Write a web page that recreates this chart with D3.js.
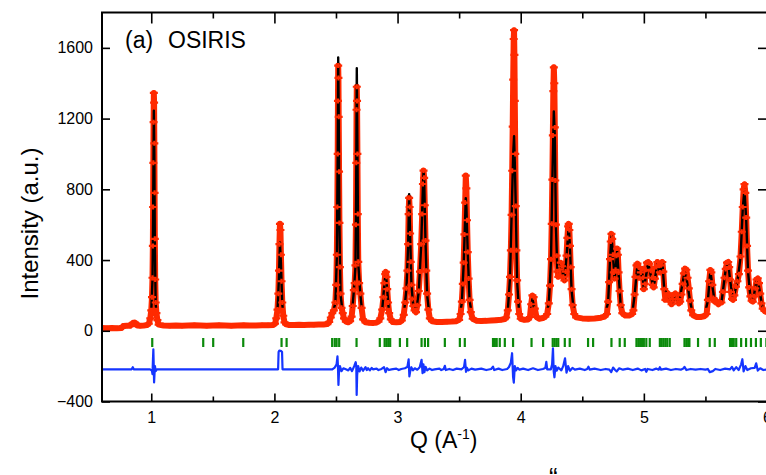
<!DOCTYPE html>
<html><head><meta charset="utf-8">
<script src="https://cdn.jsdelivr.net/npm/d3@7"></script>
<style>body{margin:0;background:#fff} svg{display:block} text{font-family:"Liberation Sans",Arial,sans-serif}</style>
</head><body><svg id="c" width="766" height="475"></svg>
<script>
// ---------- data ----------
const xTicks = [1, 2, 3, 4, 5, 6];
const xMinorTicks = [1.5, 2.5, 3.5, 4.5, 5.5];
const yTicks = [-400, 0, 400, 800, 1200, 1600];

// observed intensity [Q, I]
const observed = [
[0.600,15],[0.640,14],[0.680,15],[0.720,14],[0.760,16],[0.772,27],[0.800,28],[0.830,29],[0.845,40],[0.852,45],[0.860,38],[0.868,46],[0.876,40],[0.885,30],[0.910,29],[0.940,30],[0.965,32],
[0.980,40],[0.992,70],[1.000,115],[1.006,190],[1.010,300],[1.013,480],[1.015,700],[1.017,950],[1.019,1180],[1.021,1345],[1.023,1290],[1.025,1060],[1.027,780],[1.029,520],[1.032,290],[1.036,160],[1.042,100],[1.050,60],[1.060,35],
[1.10,30],[1.15,29],[1.20,30],[1.25,29],[1.30,30],[1.35,31],[1.40,30],[1.45,29],[1.50,30],[1.55,31],[1.60,30],[1.65,29],[1.70,30],[1.75,31],[1.80,30],[1.85,30],[1.90,31],[1.95,31],[1.99,33],
[2.005,40],[2.015,70],[2.025,120],[2.032,210],[2.037,340],[2.041,490],[2.045,605],[2.049,570],[2.053,430],[2.058,280],[2.064,160],[2.072,85],[2.082,48],[2.095,36],
[2.12,33],[2.16,33],[2.20,34],[2.24,33],[2.28,34],[2.32,34],[2.36,35],[2.40,36],[2.43,38],
[2.445,50],[2.458,75],[2.470,100],[2.483,115],[2.495,160],[2.502,260],[2.507,430],[2.511,700],[2.514,1000],[2.516,1300],[2.518,1500],[2.520,1430],[2.522,1210],[2.525,900],[2.528,610],[2.532,360],[2.537,210],[2.545,130],[2.555,100],[2.565,70],[2.580,52],[2.600,48],[2.615,55],
[2.627,80],[2.636,140],[2.645,230],[2.652,270],[2.658,370],[2.662,600],[2.665,950],[2.667,1250],[2.669,1380],[2.671,1300],[2.674,1000],[2.677,660],[2.681,390],[2.688,270],[2.698,210],[2.708,130],[2.720,65],[2.740,48],[2.770,45],[2.800,44],[2.825,46],
[2.845,52],[2.860,70],[2.875,120],[2.885,190],[2.893,270],[2.900,320],[2.905,333],[2.910,305],[2.916,235],[2.923,160],[2.932,100],[2.945,65],[2.960,50],[2.990,48],[3.020,50],
[3.035,58],[3.050,90],[3.062,160],[3.072,240],[3.080,340],[3.086,490],[3.090,660],[3.094,752],[3.098,700],[3.102,550],[3.107,390],[3.113,260],[3.120,180],[3.128,140],[3.138,115],[3.150,105],[3.160,145],[3.172,225],[3.182,335],[3.192,490],[3.200,660],[3.206,830],[3.211,906],[3.216,865],[3.221,710],[3.227,510],[3.233,340],[3.240,210],[3.250,120],[3.262,70],[3.280,54],[3.320,50],[3.360,50],[3.400,51],[3.440,52],[3.475,54],
[3.500,62],[3.512,95],[3.522,165],[3.530,265],[3.537,385],[3.543,545],[3.549,725],[3.554,878],[3.559,805],[3.564,625],[3.570,445],[3.577,295],[3.585,175],[3.595,105],[3.610,68],[3.640,57],[3.680,55],[3.720,56],[3.760,58],[3.800,60],[3.840,62],[3.870,66],
[3.882,75],[3.895,115],[3.905,205],[3.913,305],[3.920,455],[3.926,655],[3.931,905],[3.935,1155],[3.939,1420],[3.943,1650],[3.946,1700],[3.949,1560],[3.952,1300],[3.956,1000],[3.960,705],[3.965,455],[3.971,285],[3.978,165],[3.988,95],[4.000,68],[4.030,62],[4.060,64],
[4.075,78],[4.085,150],[4.095,200],[4.105,190],[4.115,125],[4.128,78],[4.150,68],[4.180,72],[4.200,80],
[4.215,95],[4.228,155],[4.238,255],[4.246,405],[4.252,605],[4.257,855],[4.261,1105],[4.265,1355],[4.269,1490],[4.273,1400],[4.277,1150],[4.281,850],[4.286,600],[4.292,425],[4.298,335],[4.305,305],[4.315,345],[4.325,385],[4.335,365],[4.345,305],[4.355,285],[4.365,335],[4.372,425],[4.379,525],[4.385,590],[4.390,605],[4.395,570],[4.400,480],[4.406,360],[4.413,235],[4.422,145],[4.435,95],[4.450,76],[4.500,70],[4.550,68],[4.600,70],[4.650,74],[4.680,80],
[4.700,95],[4.710,165],[4.718,275],[4.725,405],[4.731,505],[4.737,548],[4.743,520],[4.749,430],[4.756,330],[4.763,295],[4.770,345],[4.777,425],[4.783,465],[4.789,430],[4.795,330],[4.803,225],[4.812,145],[4.825,100],[4.850,86],[4.880,86],[4.905,95],
[4.915,115],[4.925,205],[4.932,305],[4.940,370],[4.948,380],[4.956,360],[4.965,300],[4.975,330],[4.985,350],[4.993,300],[5.000,235],[5.008,265],[5.016,345],[5.025,385],[5.035,389],[5.045,380],[5.055,340],[5.065,300],[5.072,260],[5.080,245],[5.090,295],[5.100,360],[5.110,389],[5.120,370],[5.130,330],[5.140,370],[5.150,389],[5.158,335],[5.166,235],
[5.175,175],[5.185,205],[5.195,212],[5.205,195],[5.215,165],[5.225,150],[5.235,180],[5.245,205],[5.255,211],[5.265,200],[5.275,180],[5.285,155],
[5.295,165],[5.305,205],[5.315,265],[5.325,325],[5.335,352],[5.345,345],[5.355,300],[5.365,240],[5.375,170],[5.385,115],[5.400,88],[5.430,78],[5.460,78],[5.490,82],
[5.510,95],[5.520,175],[5.530,280],[5.540,344],[5.548,330],[5.556,260],[5.565,185],[5.575,165],[5.585,170],[5.595,160],[5.605,150],[5.615,160],
[5.630,160],[5.642,220],[5.655,300],[5.665,350],[5.675,385],[5.685,389],[5.693,360],[5.700,290],[5.708,220],[5.716,180],[5.724,175],
[5.735,200],[5.748,250],[5.760,280],[5.772,320],[5.785,420],[5.795,560],[5.803,700],[5.810,800],[5.817,829],[5.824,780],[5.831,640],[5.838,480],[5.846,340],[5.855,245],[5.865,195],
[5.875,170],[5.885,165],[5.895,195],[5.905,240],[5.915,290],[5.925,296],[5.935,270],[5.945,210],[5.955,155],[5.965,125],[5.980,112],[6.000,105]
];

// calculated profile [Q, I]
const calculated = [
[0.60,15],[0.98,38],[1.000,110],[1.010,290],[1.015,650],[1.021,1245],[1.025,1000],[1.029,500],[1.036,150],[1.05,55],[1.10,30],
[2.00,35],[2.025,115],[2.037,300],[2.045,500],[2.053,380],[2.064,150],[2.08,50],[2.10,35],
[2.44,40],[2.47,95],[2.495,155],[2.507,420],[2.514,1000],[2.518,1546],[2.522,1250],[2.528,600],[2.537,205],[2.555,100],[2.58,52],[2.60,48],
[2.627,78],[2.645,225],[2.658,360],[2.664,800],[2.669,1485],[2.674,1050],[2.681,380],[2.698,205],[2.72,62],[2.80,44],
[2.845,50],[2.875,115],[2.893,265],[2.905,330],[2.916,230],[2.932,95],[2.96,50],[3.02,50],
[3.050,88],[3.072,235],[3.086,485],[3.094,773],[3.102,545],[3.113,255],[3.128,138],[3.150,100],[3.172,220],[3.192,485],[3.206,820],[3.211,900],[3.216,860],[3.227,505],[3.240,205],[3.262,68],[3.30,52],[3.48,54],
[3.500,60],[3.522,160],[3.537,380],[3.549,640],[3.554,750],[3.559,700],[3.570,440],[3.585,170],[3.610,66],[3.87,64],
[3.895,112],[3.913,300],[3.926,650],[3.939,1000],[3.946,1100],[3.952,950],[3.960,700],[3.971,280],[3.988,92],[4.06,63],
[4.075,76],[4.095,180],[4.115,120],[4.15,67],[4.20,78],
[4.228,150],[4.246,400],[4.257,850],[4.269,1240],[4.277,1100],[4.286,590],[4.298,330],[4.325,380],[4.355,280],[4.372,420],[4.390,590],[4.400,470],[4.413,230],[4.435,92],[4.50,70],[4.68,80],
[4.710,160],[4.725,400],[4.737,540],[4.749,425],[4.763,290],[4.783,450],[4.795,325],[4.812,140],[4.85,86],[4.905,94],
[4.925,200],[4.948,375],[4.965,300],[4.985,345],[5.000,235],[5.035,385],[5.072,260],[5.080,245],[5.110,385],[5.130,330],[5.150,389],[5.166,230],
[5.195,210],[5.225,150],[5.255,208],[5.285,155],[5.335,350],[5.375,168],[5.400,86],[5.49,80],
[5.520,170],[5.540,340],[5.556,255],[5.575,165],[5.605,150],[5.630,158],[5.665,350],[5.685,385],[5.700,288],[5.724,175],
[5.760,278],[5.785,415],[5.803,690],[5.817,800],[5.831,630],[5.846,335],[5.865,193],[5.885,165],[5.915,285],[5.925,290],[5.945,205],[5.965,124],[6.00,104]
];

// difference curve (offset) [Q, I]
const difference = [
[0.60,-218],[0.84,-218],[0.850,-206],[0.858,-218],[0.99,-218],[1.005,-225],[1.010,-245],[1.014,-160],[1.017,-105],[1.020,-190],[1.023,-292],[1.026,-250],[1.030,-200],[1.036,-228],[1.045,-218],
[2.030,-218],[2.034,-120],[2.040,-112],[2.056,-115],[2.062,-120],[2.066,-218],
[2.470,-218],[2.490,-208],[2.505,-190],[2.512,-145],[2.516,-200],[2.520,-306],[2.524,-240],[2.532,-200],[2.545,-228],[2.560,-212],[2.580,-218],[2.600,-224],[2.615,-210],[2.630,-228],[2.648,-200],[2.660,-178],[2.665,-200],[2.668,-363],[2.672,-250],[2.680,-200],[2.692,-230],[2.705,-208],[2.720,-226],[2.740,-206],[2.750,-222],[2.760,-212],[2.775,-224],[2.790,-210],[2.800,-218],[2.830,-214],[2.845,-222],[2.870,-216],[2.890,-206],[2.903,-234],[2.915,-212],[2.930,-222],[2.950,-218],
[2.990,-214],[3.010,-222],[3.030,-216],[3.060,-212],[3.080,-204],[3.090,-162],[3.096,-258],[3.102,-232],[3.112,-206],[3.125,-224],[3.140,-212],[3.160,-220],[3.180,-206],[3.195,-164],[3.203,-240],[3.210,-190],[3.218,-234],[3.228,-204],[3.240,-224],[3.260,-214],[3.280,-222],[3.300,-218],
[3.340,-214],[3.355,-222],[3.375,-216],[3.384,-198],[3.392,-222],[3.420,-216],[3.450,-222],[3.480,-214],[3.520,-218],[3.540,-205],[3.548,-165],[3.556,-232],[3.564,-210],[3.575,-224],[3.600,-214],[3.630,-220],
[3.680,-214],[3.720,-222],[3.760,-216],[3.775,-203],[3.785,-222],[3.820,-214],[3.850,-222],[3.890,-216],[3.905,-205],[3.920,-180],[3.930,-127],[3.938,-260],[3.944,-293],[3.952,-200],[3.962,-224],[3.975,-210],[3.990,-220],[4.020,-214],[4.060,-222],
[4.100,-212],[4.140,-222],[4.180,-216],[4.200,-210],[4.208,-176],[4.215,-218],[4.245,-218],[4.255,-190],[4.262,-99],[4.268,-230],[4.274,-263],[4.282,-200],[4.292,-226],[4.305,-208],[4.330,-224],[4.345,-200],[4.360,-156],[4.372,-237],[4.385,-200],[4.400,-226],[4.420,-210],[4.440,-220],
[4.480,-214],[4.520,-222],[4.540,-216],[4.550,-203],[4.560,-220],[4.600,-214],[4.650,-222],[4.690,-216],[4.720,-220],[4.735,-234],[4.750,-208],[4.765,-220],[4.780,-230],[4.800,-212],[4.830,-220],[4.870,-214],[4.910,-222],
[4.950,-214],[4.980,-224],[5.010,-216],[5.020,-232],[5.030,-216],[5.070,-222],[5.100,-214],[5.120,-220],[5.130,-206],[5.140,-220],[5.180,-214],[5.220,-222],[5.260,-216],[5.300,-220],[5.320,-214],[5.330,-204],[5.345,-222],[5.380,-216],[5.420,-220],[5.460,-216],[5.500,-220],
[5.520,-216],[5.535,-234],[5.560,-228],[5.580,-216],[5.620,-222],[5.660,-214],[5.700,-218],[5.715,-204],[5.730,-224],[5.750,-206],[5.770,-222],[5.790,-190],[5.800,-161],[5.810,-230],[5.825,-200],[5.840,-222],[5.870,-212],[5.900,-210],[5.912,-184],[5.925,-225],[5.945,-212],[5.970,-222],[6.000,-218]
];

// Bragg reflection positions (Q)
const braggPositions = [1.008,1.422,1.503,1.747,2.058,2.099,2.469,2.490,2.505,2.526,2.667,2.856,2.895,2.910,2.925,2.940,3.019,3.078,3.195,3.222,3.248,3.384,3.506,3.546,3.775,3.790,3.805,3.830,3.871,3.938,4.088,4.182,4.260,4.275,4.290,4.305,4.358,4.398,4.547,4.588,4.737,4.804,4.845,4.940,4.955,4.970,4.985,5.000,5.020,5.048,5.130,5.145,5.160,5.175,5.190,5.210,5.330,5.345,5.360,5.370,5.440,5.535,5.576,5.700,5.715,5.730,5.750,5.790,5.830,5.870,5.910,5.950,5.995];
const braggLevel = -66;

// ---------- drawing ----------
const RED = "#ff2a00", BLUE = "#1535ff", GREEN = "#0b8a0b";
const L = 102, R = 767, T = 12.5, B = 401.5;
const x = d3.scaleLinear().domain([0.6, 6.0]).range([L, R]);
const y = d3.scaleLinear().domain([-400, 1800]).range([B, T]);
const svg = d3.select("#c");

const defs = svg.append("defs");
defs.append("clipPath").attr("id", "plot").append("rect")
  .attr("x", L).attr("y", T).attr("width", R - L).attr("height", B - T);
defs.append("clipPath").attr("id", "peaks").append("rect")
  .attr("x", L).attr("y", T).attr("width", R - L).attr("height", y(130) - T);

const g = svg.append("g").attr("clip-path", "url(#plot)");
const line = d3.line().x(d => x(d[0])).y(d => y(d[1]));

g.append("path").attr("d", line(observed)).attr("fill", "none")
  .attr("stroke", RED).attr("stroke-width", 6).attr("stroke-linejoin", "round");
g.append("path").attr("d", line(calculated)).attr("fill", "none")
  .attr("clip-path", "url(#peaks)")
  .attr("stroke", "#000").attr("stroke-width", 2.4).attr("stroke-linejoin", "round");
g.selectAll("path.obs").data(observed).join("path").attr("class", "obs")
  .attr("transform", d => `translate(${x(d[0])},${y(d[1])})`)
  .attr("d", "M-4,0H4M0,-2.5V2.5").attr("stroke", RED).attr("stroke-width", 2.2).attr("fill", "none");

g.selectAll("line.bragg").data(braggPositions).join("line").attr("class", "bragg")
  .attr("x1", d => x(d)).attr("x2", d => x(d))
  .attr("y1", y(braggLevel) - 4.5).attr("y2", y(braggLevel) + 4.5)
  .attr("stroke", GREEN).attr("stroke-width", 2.2);

g.append("path").attr("d", line(difference)).attr("fill", "none")
  .attr("stroke", BLUE).attr("stroke-width", 2.2).attr("stroke-linejoin", "round");

// axes
function styleAxis(sel, fs) {
  sel.select(".domain").remove();
  sel.selectAll(".tick line").attr("stroke", "#000").attr("stroke-width", 1.6);
  sel.selectAll(".tick text").attr("fill", "#000").style("font-size", fs + "px")
    .style("font-family", '"Liberation Sans", Arial, sans-serif');
}
svg.append("g").attr("transform", `translate(0,${B})`)
  .call(d3.axisBottom(x).tickValues(xTicks).tickSize(-8).tickPadding(10).tickFormat(d3.format("d")))
  .call(s => styleAxis(s, 16));
svg.append("g").attr("transform", `translate(0,${B})`)
  .call(d3.axisBottom(x).tickValues(xMinorTicks).tickSize(-5).tickFormat(""))
  .call(s => styleAxis(s, 16));
svg.append("g").attr("transform", `translate(0,${T})`)
  .call(d3.axisTop(x).tickValues(xTicks).tickSize(-11).tickFormat(""))
  .call(s => styleAxis(s, 16));
svg.append("g").attr("transform", `translate(0,${T})`)
  .call(d3.axisTop(x).tickValues(xMinorTicks).tickSize(-6).tickFormat(""))
  .call(s => styleAxis(s, 16));
svg.append("g").attr("transform", `translate(${L},0)`)
  .call(d3.axisLeft(y).tickValues(yTicks).tickSize(-8).tickPadding(9).tickFormat(d3.format("d")))
  .call(s => styleAxis(s, 16));
svg.append("g").attr("transform", `translate(${R},0)`)
  .call(d3.axisRight(y).tickValues(yTicks).tickSize(-9).tickFormat(""))
  .call(s => styleAxis(s, 16));

svg.append("rect").attr("x", L).attr("y", T).attr("width", R - L).attr("height", B - T)
  .attr("fill", "none").attr("stroke", "#000").attr("stroke-width", 2);

// titles
svg.append("text").attr("transform", "translate(38,223.5) rotate(-90)")
  .attr("text-anchor", "middle").style("font-size", "24px").text("Intensity (a.u.)");
const xl = svg.append("text").attr("x", 410).attr("y", 448).style("font-size", "23px");
xl.append("tspan").text("Q (A");
xl.append("tspan").attr("dy", -9).style("font-size", "14px").text("-1");
xl.append("tspan").attr("dy", 9).text(")");

svg.append("text").attr("x", 125).attr("y", 48).style("font-size", "23px").text("(a)");
svg.append("text").attr("x", 168).attr("y", 48).style("font-size", "23px").text("OSIRIS");
svg.append("text").attr("x", 549).attr("y", 486).style("font-size", "26px").text("\u201C");
</script></body></html>
